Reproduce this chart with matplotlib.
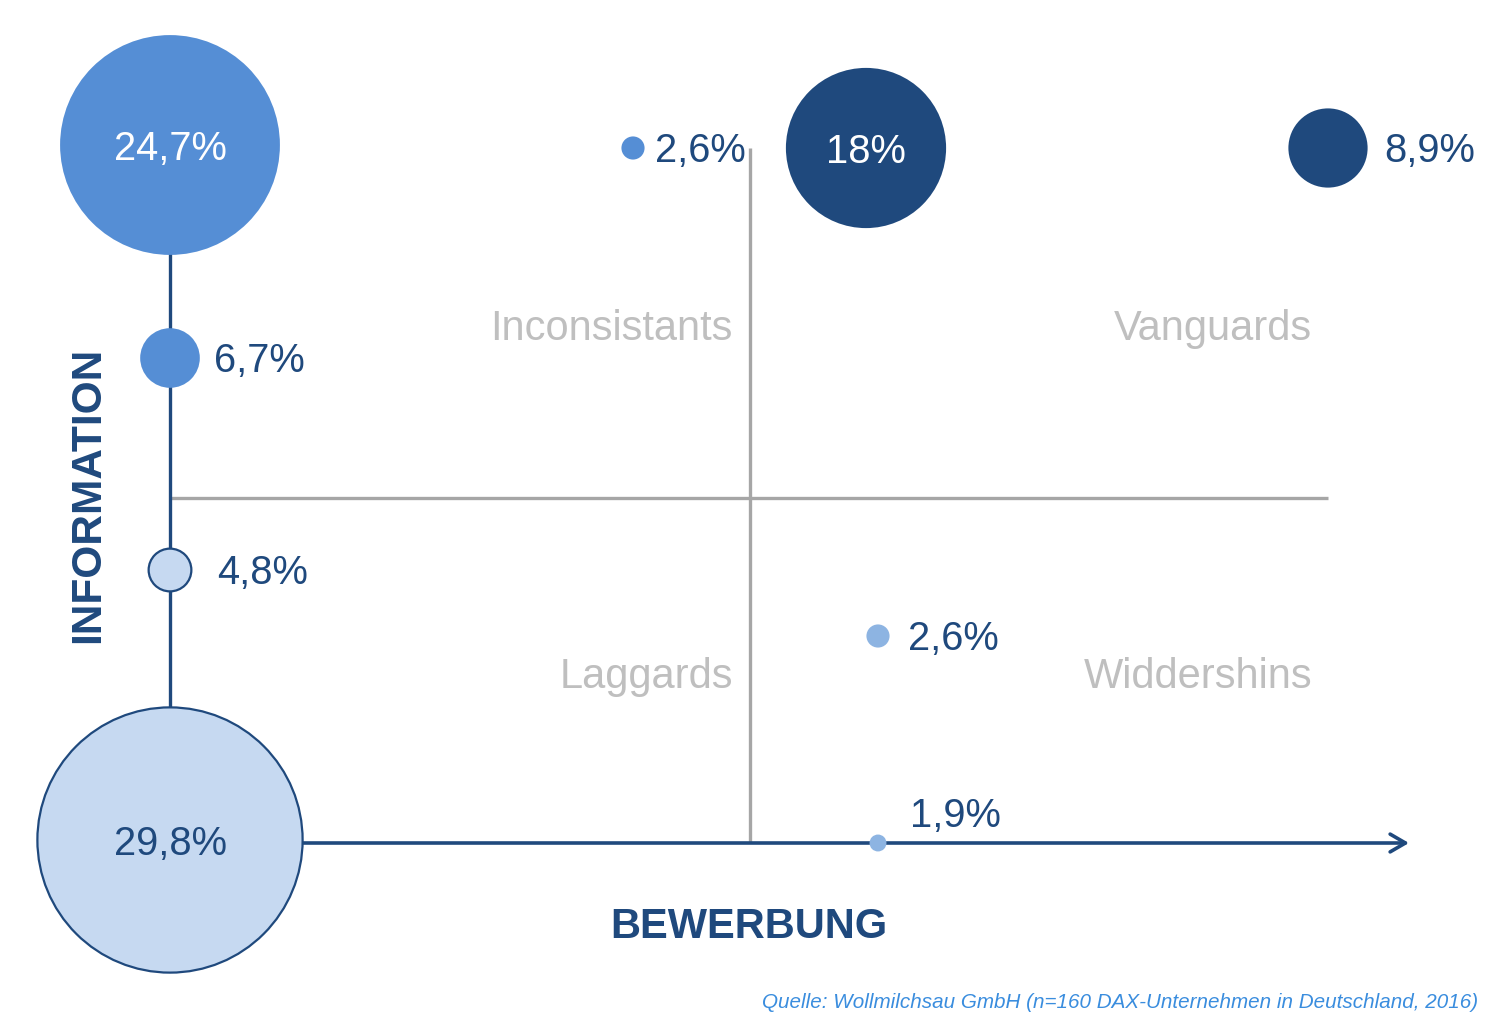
"""
Bubble matrix: Information vs. Bewerbung (DAX-Unternehmen)
"""
import matplotlib
matplotlib.use('Agg')
import matplotlib.pyplot as plt
from matplotlib.patches import Circle

plt.rcParams['font.family'] = ['Liberation Sans', 'DejaVu Sans']

# data: position on the matrix (origin = axis crossing) and share in percent
bubble_x = [0, 0, 0, 0, 463, 696, 708, 708, 1158]
bubble_y = [698, 485, 273, 3, 695, 695, 207, 0, 695]
shares = [24.7, 6.7, 4.8, 29.8, 2.6, 18.0, 2.6, 1.9, 8.9]
labels = ['24,7%', '6,7%', '4,8%', '29,8%', '2,6%', '18%', '2,6%', '1,9%', '8,9%']
groups = ['mid', 'mid', 'light', 'light', 'mid', 'dark', 'pale', 'pale', 'dark']

quadrants = ['Inconsistants', 'Vanguards', 'Laggards', 'Widdershins']
quad_x = [563, 1142, 563, 1142]
quad_y = [517, 517, 169, 169]

x_label = 'BEWERBUNG'
y_label = 'INFORMATION'
source = 'Quelle: Wollmilchsau GmbH (n=160 DAX-Unternehmen in Deutschland, 2016)'

# styling
NAVY = '#1F497D'
GRAY = '#A6A6A6'
fills = {'mid': '#558ED5', 'dark': '#1F497D', 'light': '#C6D9F1', 'pale': '#8DB4E2'}
PX_PER_PCT = 4.45
# label placement: 'in' centered, ('r', gap) right of bubble, ('up', dx, dy)
label_pos = [('in',), ('r', 14), ('r', 26), ('in',), ('r', 10), ('in',), ('r', 18), ('up', 32, 27), ('r', 17)]

fig = plt.figure(figsize=(15, 10.25), dpi=100)
ax = fig.add_axes([0, 0, 1, 1])
ax.set_xlim(-170, 1330)
ax.set_ylim(-182, 843)
ax.set_aspect('equal')
ax.axis('off')

# quadrant divider lines
ax.plot([quad_x[0] + 17, quad_x[0] + 17], [0, bubble_y[4]], color=GRAY, lw=2.4, zorder=1, solid_capstyle='butt')
ax.plot([0, bubble_x[-1]], [345, 345], color=GRAY, lw=2.4, zorder=1, solid_capstyle='butt')

# axes
ax.plot([0, 0], [0, bubble_y[0]], color=NAVY, lw=2.4, zorder=1)
ax.annotate('', xy=(1239, 0), xytext=(0, 0),
            arrowprops=dict(arrowstyle='->,head_length=0.55,head_width=0.32',
                            color=NAVY, lw=2.6, shrinkA=0, shrinkB=0,
                            mutation_scale=20),
            zorder=1)

for x, y, v, lab, g, pos in zip(bubble_x, bubble_y, shares, labels, groups, label_pos):
    r = v * PX_PER_PCT
    edge = NAVY if g == 'light' else 'none'
    ax.add_patch(Circle((x, y), r, facecolor=fills[g], edgecolor=edge, lw=1.6, zorder=3))
    if pos[0] == 'in':
        col = NAVY if g == 'light' else 'white'
        ax.text(x, y - 4, lab, fontsize=28.7, color=col, ha='center', va='center', zorder=4)
    elif pos[0] == 'r':
        ax.text(x + r + pos[1], y - 3, lab, fontsize=28.7, color=NAVY, ha='left', va='center', zorder=4)
    else:
        ax.text(x + pos[1], y + pos[2], lab, fontsize=28.7, color=NAVY, ha='left', va='center', zorder=4)

for q, qx, qy in zip(quadrants, quad_x, quad_y):
    ax.text(qx, qy - 3, q, fontsize=30, color='#BFBFBF', ha='right', va='center')

ax.text(579, -84, x_label, fontsize=30, fontweight='bold', color=NAVY, ha='center', va='center')
ax.text(-82, 348, y_label, fontsize=30.5, fontweight='bold', color=NAVY, ha='center', va='center',
        rotation=90)
ax.text(1308, -160, source, fontsize=14.9, style='italic', color='#3A8DDE', ha='right', va='center')

fig.savefig('out.png', dpi=100)
